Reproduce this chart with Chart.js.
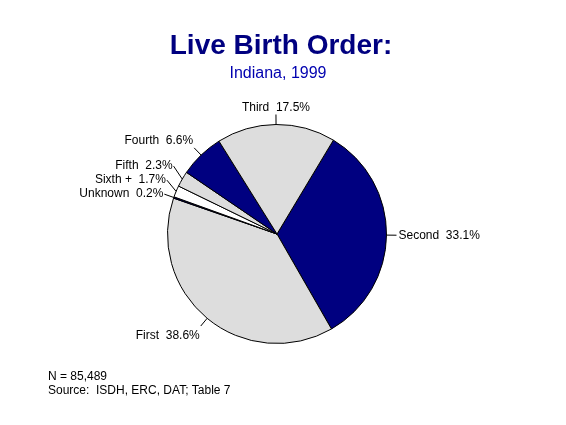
<!DOCTYPE html>
<html>
<head>
<meta charset="utf-8">
<script src="https://cdn.jsdelivr.net/npm/chart.js@4.4.1/dist/chart.umd.min.js"></script>
<style>
  body { margin: 0; background: #fff; }
  canvas { display: block; }
</style>
</head>
<body>
<canvas id="pie" width="566" height="425"></canvas>
<script>
// slices in drawing order, clockwise from the Second/Third boundary
const categories = ['Second', 'First', 'Unknown', 'Sixth +', 'Fifth', 'Fourth', 'Third'];
const percents = [33.1, 38.6, 0.2, 1.7, 2.3, 6.6, 17.5];
const sliceColors = ['#000080', '#dddddd', '#000080', '#ffffff', '#dddddd', '#000080', '#dddddd'];

const NAVY = '#000080';
const FONT = 'Arial, "Liberation Sans", sans-serif';

// labels with short leader lines, pushed apart on the left side
const sliceLabels = {
    id: 'sliceLabels',
    afterDatasetsDraw(chart) {
        const ctx = chart.ctx;
        const arcs = chart.getDatasetMeta(0).data;
        const anchors = arcs.map((arc, i) => {
            const mid = (arc.startAngle + arc.endAngle) / 2;
            const r = arc.outerRadius;
            return {
                i, mid,
                x0: arc.x + Math.cos(mid) * r,
                y0: arc.y + Math.sin(mid) * r,
                x: arc.x + Math.cos(mid) * (r + 10),
                y: arc.y + Math.sin(mid) * (r + 10)
            };
        });
        // keep small left-hand labels at least 14px apart, working upward
        const left = anchors.filter(a => Math.cos(a.mid) < 0 && Math.sin(a.mid) < 0 && Math.abs(Math.sin(a.mid)) < 0.6)
            .sort((a, b) => b.y - a.y);
        for (let k = 1; k < left.length; k++) {
            if (left[k - 1].y - left[k].y < 14) left[k].y = left[k - 1].y - 14;
        }
        ctx.save();
        ctx.font = '12px ' + FONT;
        ctx.fillStyle = '#000';
        ctx.strokeStyle = '#000';
        ctx.lineWidth = 1;
        anchors.forEach(a => {
            ctx.beginPath();
            ctx.moveTo(a.x0, a.y0);
            ctx.lineTo(a.x, a.y);
            ctx.stroke();
            const c = Math.cos(a.mid), s = Math.sin(a.mid);
            let tx = a.x, ty = a.y;
            if (Math.abs(c) < 0.3) { ctx.textAlign = 'center'; }
            else if (c > 0) { ctx.textAlign = 'left'; tx += 2; }
            else { ctx.textAlign = 'right'; tx -= 1; }
            if (Math.abs(s) < 0.6) ctx.textBaseline = 'middle';
            else if (s < 0) { ctx.textBaseline = 'bottom'; ty -= 1; }
            else { ctx.textBaseline = 'top'; ty += 4; }
            ctx.fillText(categories[a.i] + '  ' + percents[a.i].toFixed(1) + '%', tx, ty);
        });
        ctx.restore();
    }
};

const headings = {
    id: 'headings',
    afterDraw(chart) {
        const ctx = chart.ctx;
        ctx.save();
        ctx.textAlign = 'center';
        ctx.textBaseline = 'alphabetic';
        ctx.fillStyle = NAVY;
        ctx.font = 'bold 28px ' + FONT;
        ctx.fillText('Live Birth Order:', 281, 54);
        ctx.fillStyle = '#0000b0';
        ctx.font = '16px ' + FONT;
        ctx.fillText('Indiana, 1999', 278, 78);
        ctx.fillStyle = '#000';
        ctx.textAlign = 'left';
        ctx.font = '12px ' + FONT;
        ctx.fillText('N = 85,489', 48, 380);
        ctx.fillText('Source:  ISDH, ERC, DAT; Table 7', 48, 394);
        ctx.restore();
    }
};

new Chart(document.getElementById('pie'), {
    type: 'pie',
    data: {
        labels: categories,
        datasets: [{
            data: percents,
            backgroundColor: sliceColors,
            borderColor: '#000',
            borderWidth: 1
        }]
    },
    options: {
        responsive: false,
        devicePixelRatio: 1,
        animation: false,
        rotation: 31,
        layout: { padding: { left: 167, right: 179, top: 124, bottom: 81 } },
        plugins: {
            legend: { display: false },
            tooltip: { enabled: false }
        }
    },
    plugins: [sliceLabels, headings]
});
</script>
</body>
</html>
